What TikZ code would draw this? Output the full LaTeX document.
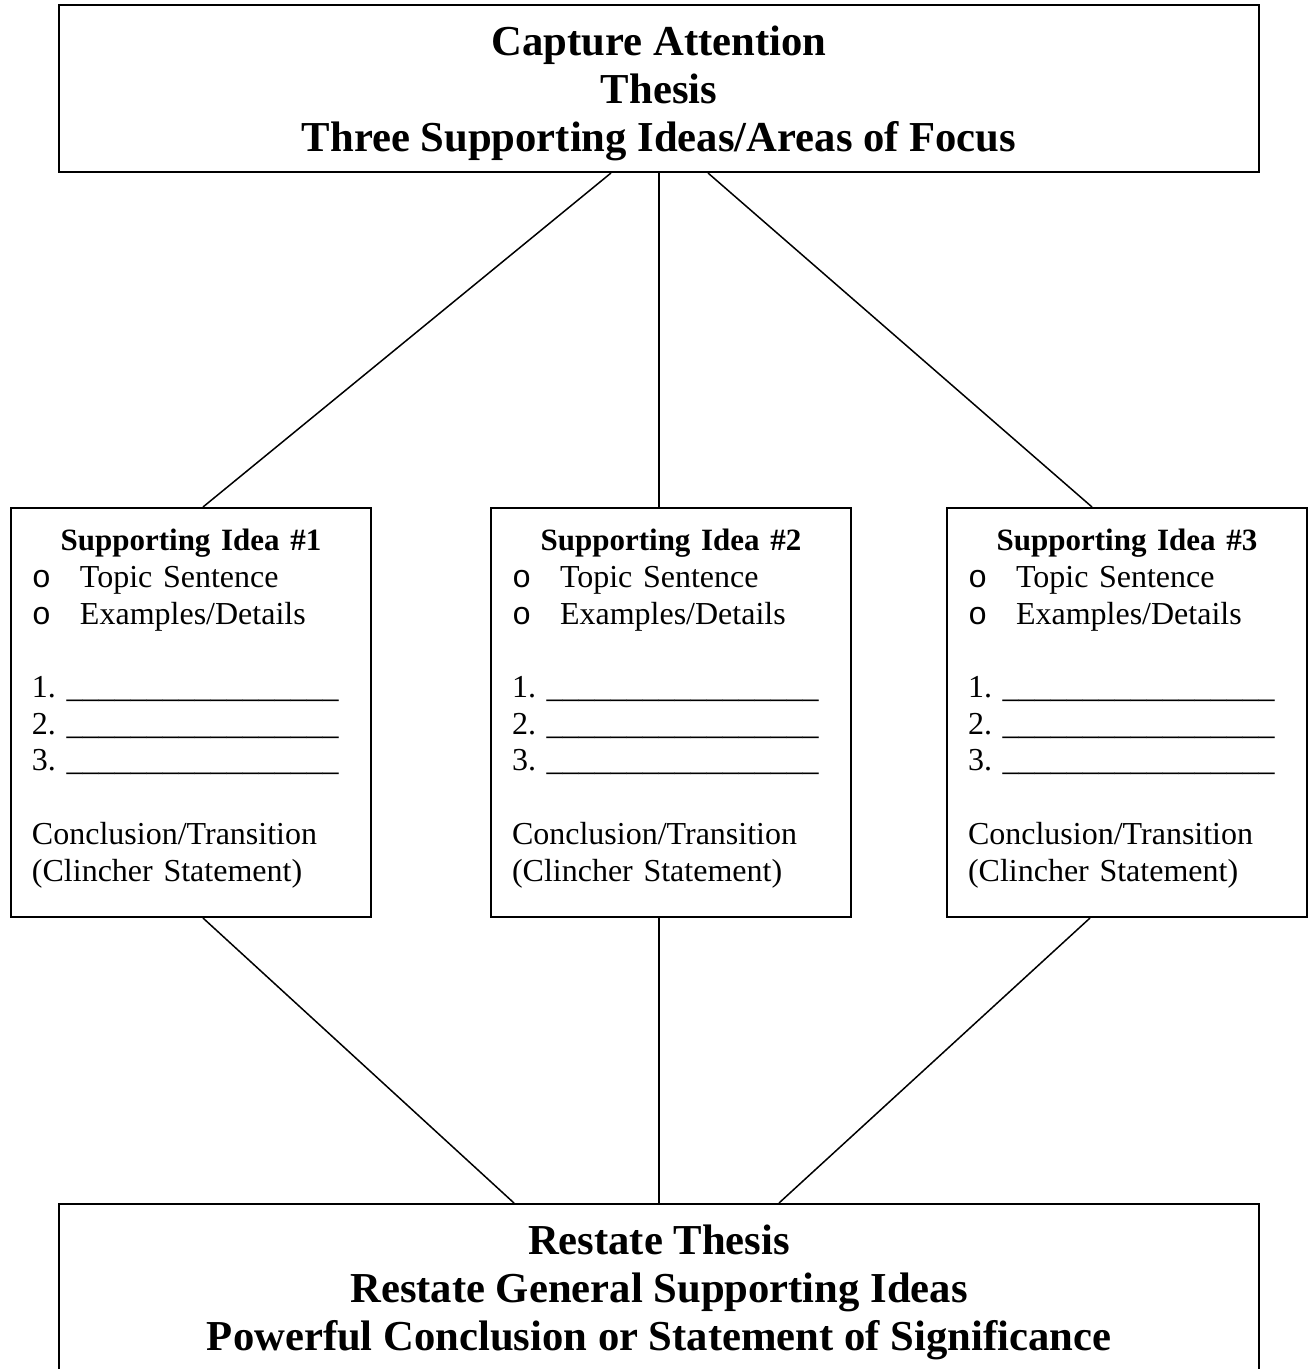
\documentclass[tikz,border=0pt]{standalone}
\usepackage{fontspec}
\setmainfont{Liberation Serif}
\setmonofont{Liberation Mono}
\usetikzlibrary{positioning, calc}
\frenchspacing

\newcommand{\blankfill}{\_\_\_\_\_\_\_\_\_\_\_\_\_\_\_\_\_}
\newcommand{\headstrut}{\rule{0pt}{19.4pt}}
\newcommand{\ideacontent}[1]{%
  {\centering\fontsize{15.5pt}{18.35pt}\selectfont
   \textbf{Supporting Idea \##1}\par}
  \makebox[24pt][l]{\texttt{o}}Topic Sentence\\
  \makebox[24pt][l]{\texttt{o}}Examples/Details\\[18.35pt]
  1. \blankfill\\
  2. \blankfill\\
  3. \blankfill\\[18.35pt]
  Conclusion/Transition\\
  (Clincher Statement)\rule[-7.4pt]{0pt}{0pt}}

\begin{document}
\begin{tikzpicture}[x=0.5pt, y=-0.5pt,
    bigbox/.style={draw, line width=1pt, minimum width=600pt,
                   minimum height=83.5pt, inner sep=0pt, align=center,
                   font=\fontsize{21.33pt}{24pt}\selectfont\bfseries},
    idea/.style={draw, line width=1pt, minimum width=180pt,
                 minimum height=204.5pt, text width=159pt,
                 inner xsep=10.5pt, inner ysep=0pt, align=left,
                 font=\fontsize{16pt}{18.35pt}\selectfont},
    link/.style={line width=0.75pt}
  ]
  \useasboundingbox (0,0) rectangle (1309,1369);

  \node[bigbox] (top) at (659, 88.5)
    {\headstrut Capture Attention\\ Thesis\\
     Three Supporting Ideas/Areas of Focus};
  \node[idea] (idea1) at (191, 712.5) {\ideacontent{1}};
  \node[idea] (idea2) at (671, 712.5) {\ideacontent{2}};
  \node[idea] (idea3) at (1127, 712.5) {\ideacontent{3}};
  \node[bigbox] (bottom) at (659, 1287.5)
    {\headstrut Restate Thesis\\ Restate General Supporting Ideas\\
     Powerful Conclusion or Statement of Significance};

  % top to ideas
  \draw[link] ($(top.south)+(-48,0)$) -- ($(idea1.north)+(12,0)$);
  \draw[link] (top.south) -- (top.south |- idea2.north);
  \draw[link] ($(top.south)+(49,0)$) -- ($(idea3.north)+(-35,0)$);

  % ideas to bottom
  \draw[link] ($(idea1.south)+(12,0)$) -- ($(bottom.north)+(-145,0)$);
  \draw[link] (bottom.north |- idea2.south) -- (bottom.north);
  \draw[link] ($(idea3.south)+(-37,0)$) -- ($(bottom.north)+(120,0)$);
\end{tikzpicture}
\end{document}
